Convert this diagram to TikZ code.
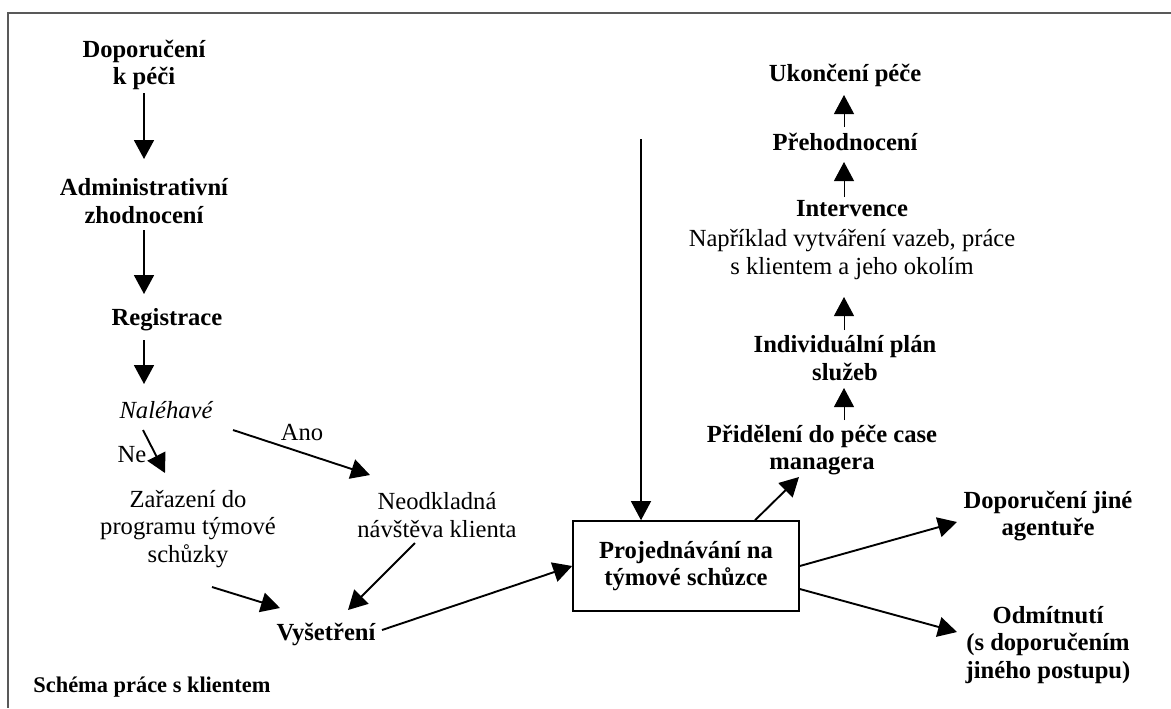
\documentclass[tikz,border=0pt]{standalone}
\usepackage{fontspec}
\setmainfont{Liberation Serif}
\usetikzlibrary{arrows.meta,calc}
\begin{document}
\begin{tikzpicture}[x=0.5pt,y=-0.5pt,
  every node/.style={inner sep=0pt, align=center},
  bnode/.style={font=\fontsize{12.3}{13.8}\selectfont\bfseries},
  rnode/.style={font=\fontsize{12.3}{13.8}\selectfont},
  inode/.style={font=\fontsize{12.3}{13.8}\selectfont\itshape},
  arr/.style={line width=0.95pt, -{Triangle[length=9.5pt,width=10pt]}},
  thinarr/.style={line width=0.5pt, -{Triangle[length=9.5pt,width=10pt]}},
  framestyle/.style={line width=0.75pt, draw=black!65},
  boxstyle/.style={draw, line width=0.8pt, minimum width=113pt, minimum height=45pt}]
\useasboundingbox (0,0) rectangle (1171,708);
% open frame: top and left edges only
\draw[framestyle] (1171,13) -- (8,13) -- (8,708);

% left column
\node[bnode] (dop)   at (144,65)  {Doporučení\\k péči};
\node[bnode] (admin) at (144,201) {Administrativní\\zhodnocení};
\node[bnode] (reg)   at (167,320) {Registrace};
\node[inode] (nal)   at (166,410) {Naléhavé};
\node[rnode] (ne)    at (132,455) {Ne};
\node[rnode] (ano)   at (302,432) {Ano};
\node[rnode] (zar)   at (188,529) {Zařazení do\\programu týmové\\schůzky};
\node[rnode] (neo)   at (437,515) {Neodkladná\\návštěva klienta};
\node[bnode] (vys)   at (326,634) {Vyšetření};

% team meeting
\node[bnode, boxstyle] (box) at (686,566) {Projednávání na\\týmové schůzce};
\coordinate (feed) at (641,139);

% right column
\node[bnode] (prid)   at (822,450) {Přidělení do péče case\\managera};
\node[bnode] (indiv)  at (845,358) {Individuální plán\\služeb};
\node[rnode] (interv) at (852,240) {\textbf{Intervence}\\[1.5pt]Například vytváření vazeb, práce\\s klientem a jeho okolím};
\node[bnode] (preh)   at (845,142) {Přehodnocení};
\node[bnode] (ukon)   at (845,75)  {Ukončení péče};
\node[bnode] (dopj)   at (1048,516) {Doporučení jiné\\agentuře};
\node[bnode] (odm)    at (1048,645) {Odmítnutí\\(s doporučením\\jiného postupu)};

% caption
\node[font=\fontsize{11.2}{13}\selectfont\bfseries, anchor=base west] (cap) at (33,692) {Schéma práce s klientem};

% connectors
\draw[arr] ($(dop)+(0,28)$) -- ($(admin)+(0,-42)$);
\draw[arr] ($(admin)+(0,29)$) -- ($(reg)+(-23,-26)$);
\draw[arr] ($(reg)+(-23,20)$) -- ($(nal)+(-22,-26)$);
\draw[arr] ($(nal)+(-23,20)$) -- ($(zar)+(-23,-56)$);
\draw[arr] ($(nal)+(67,20)$) -- ($(neo)+(-67,-40)$);
\draw[arr] ($(zar)+(24,58)$) -- ($(vys)+(-46,-26)$);
\draw[arr] ($(neo)+(-22,28)$) -- ($(vys)+(22,-24)$);
\draw[arr] ($(vys)+(56,-4)$) -- (box.west);
\draw[line width=0.6pt, -{Triangle[length=9.5pt,width=10pt]}] (feed) -- (feed |- box.north);
\draw[arr] ($(box.north)+(69,0)$) -- ($(prid)+(-23,27)$);
\draw[thinarr] ($(prid)+(22,-30)$) -- ($(indiv)+(-1,30)$);
\draw[thinarr] ($(indiv)+(-1,-28)$) -- ($(interv)+(-8,57)$);
\draw[thinarr] ($(interv)+(-8,-43)$) -- ($(preh)+(-1,20)$);
\draw[thinarr] ($(preh)+(-1,-15)$) -- ($(ukon)+(-1,20)$);
\draw[arr] (box.east) -- ($(dopj)+(-91,6)$);
\draw[arr] ($(box.east)+(0,23)$) -- ($(odm)+(-91,-13)$);
\end{tikzpicture}
\end{document}
